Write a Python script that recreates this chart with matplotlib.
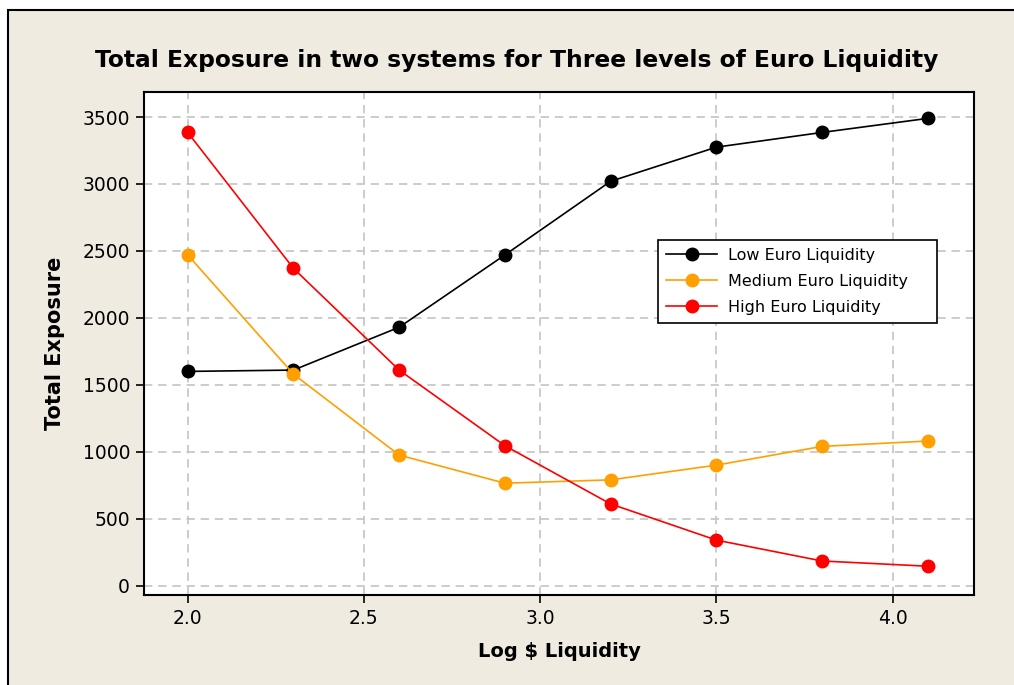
import matplotlib
matplotlib.use("Agg")
import matplotlib.pyplot as plt
from matplotlib.patches import Rectangle

# ---- data ----
log_liq = [2.0, 2.3, 2.6, 2.9, 3.2, 3.5, 3.8, 4.1]
low_euro = [1600, 1610, 1930, 2470, 3020, 3275, 3385, 3490]
medium_euro = [2470, 1580, 975, 765, 790, 900, 1040, 1080]
high_euro = [3385, 2370, 1610, 1045, 610, 340, 184, 145]
x_ticks = [2.0, 2.5, 3.0, 3.5, 4.0]
y_ticks = [0, 500, 1000, 1500, 2000, 2500, 3000, 3500]

plt.rcParams["font.family"] = ["DejaVu Sans"]

fig = plt.figure(figsize=(10.14, 6.85), dpi=100, facecolor="white")

# Minitab-style beige frame (behind the axes)
frame = Rectangle((8 / 1014, -0.05), 1.1, 1 - 10 / 685 + 0.05,
                  transform=fig.transFigure, facecolor="#EFEBE1",
                  edgecolor="black", linewidth=1.5, zorder=-10)
fig.add_artist(frame)

ax = fig.add_axes([144 / 1014, 1 - 595 / 685, 830 / 1014, 503 / 685])
ax.set_zorder(1)
ax.set_facecolor("white")

ax.plot(log_liq, low_euro, color="black", marker="o", ms=9, lw=1.2,
        label="Low Euro Liquidity", zorder=3)
ax.plot(log_liq, medium_euro, color="#FFA000", marker="o", ms=9, lw=1.2,
        label="Medium Euro Liquidity", zorder=3)
ax.plot(log_liq, high_euro, color="#FF0000", marker="o", ms=9, lw=1.2,
        label="High Euro Liquidity", zorder=3)

ax.set_xlim(1.876, 4.231)
ax.set_ylim(-70, 3687)
ax.set_xticks(x_ticks)
ax.set_xticklabels([f"{t:.1f}" for t in x_ticks])
ax.set_yticks(y_ticks)

ax.grid(True, color="#C4C4C4", linestyle=(0, (5, 3.5)), linewidth=1.2, zorder=1)
ax.set_axisbelow(True)
ax.tick_params(axis="both", direction="out", length=6, width=1.2,
               labelsize=13.5, colors="black", pad=4)
for s in ax.spines.values():
    s.set_linewidth(1.5)
    s.set_color("black")

ax.set_xlabel(r"Log \$ Liquidity", fontsize=14, fontweight="bold", labelpad=10)
ax.set_ylabel("Total Exposure", fontsize=15, fontweight="bold", labelpad=13)

fig.text(517 / 1014, 1 - 60 / 685,
         "Total Exposure in two systems for Three levels of Euro Liquidity",
         ha="center", va="center", fontsize=16.8, fontweight="bold")

leg = ax.legend(loc="upper left", mode="expand", borderaxespad=0,
                bbox_to_anchor=((658 - 144) / 830, (595 - 321) / 503,
                                279 / 830, 81 / 503),
                fontsize=11.5, frameon=True, fancybox=False, framealpha=1,
                edgecolor="black", handlelength=3.2, handletextpad=0.7,
                borderpad=0.5, labelspacing=0.68)
leg.get_frame().set_linewidth(1.2)

fig.savefig("out.png", dpi=100, facecolor=fig.get_facecolor())
